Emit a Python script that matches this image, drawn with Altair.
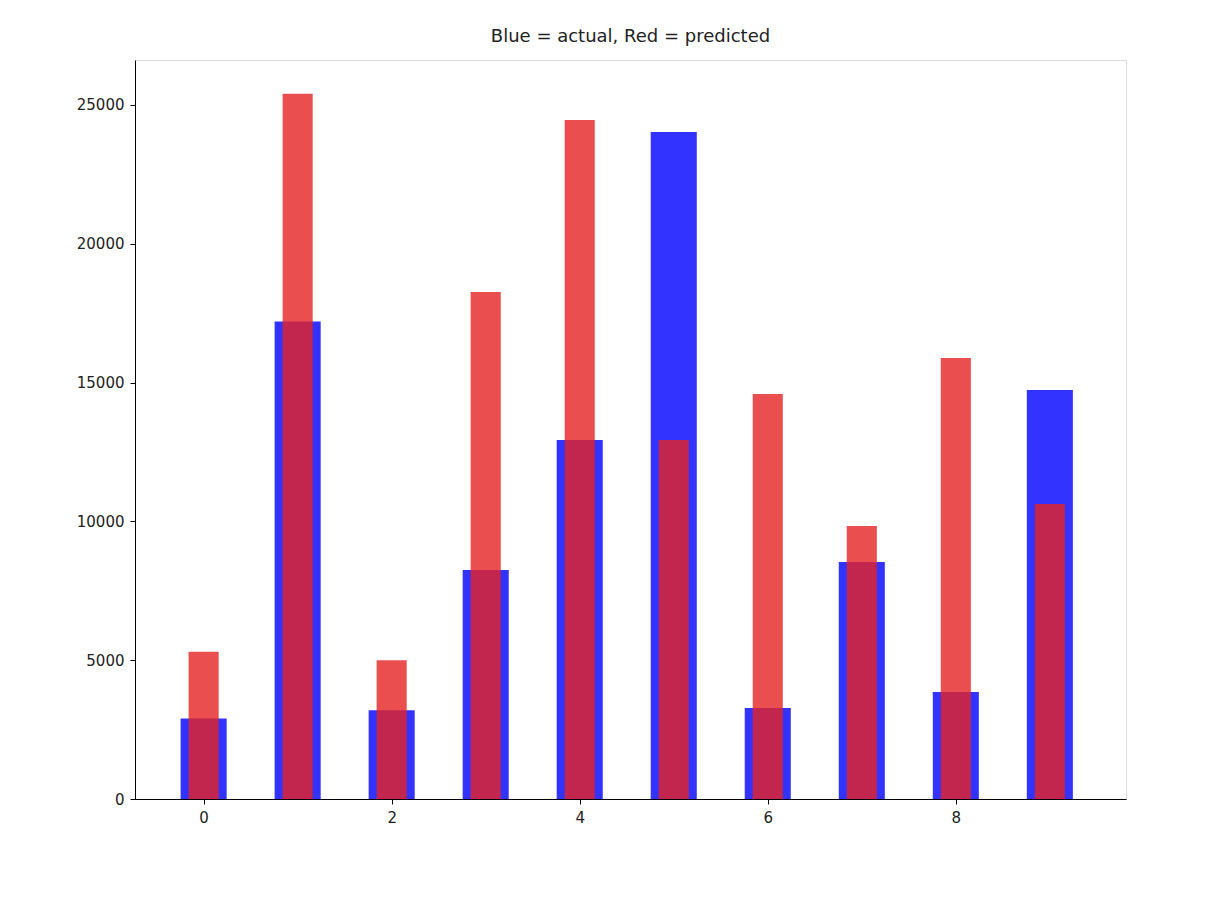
import altair as alt
import pandas as pd

idx = list(range(10))
actual = [2900, 17200, 3200, 8250, 12930, 24030, 3280, 8540, 3850, 14730]
predicted = [5300, 25400, 5000, 18260, 24460, 12930, 14590, 9830, 15890, 10630]

df = pd.DataFrame({"i": idx, "actual": actual, "predicted": predicted})

xs = alt.Scale(domain=[-0.73, 9.81], nice=False, zero=False)
ys = alt.Scale(domain=[0, 26620], nice=False)
xax = alt.Axis(values=[0, 2, 4, 6, 8], format="d", grid=False, title=None, labelFontSize=15,
               tickColor="black", domainColor="black", labelColor="#222", labelPadding=6)
yax = alt.Axis(values=[0, 5000, 10000, 15000, 20000, 25000], format="d", grid=False,
               title=None, labelFontSize=15, tickColor="black", domainColor="black",
               labelColor="#222", labelPadding=6)

base = alt.Chart(df)

blue = base.transform_calculate(x0="datum.i - 0.245", x1="datum.i + 0.245").mark_bar(
    color="blue", opacity=0.8
).encode(
    x=alt.X("x0:Q", scale=xs, axis=xax),
    x2="x1:Q",
    y=alt.Y("actual:Q", scale=ys, axis=yax),
    y2=alt.datum(0),
)

red = base.transform_calculate(x0="datum.i - 0.16", x1="datum.i + 0.16").mark_bar(
    color="#e62222", opacity=0.8
).encode(
    x=alt.X("x0:Q", scale=xs),
    x2="x1:Q",
    y=alt.Y("predicted:Q", scale=ys),
    y2=alt.datum(0),
)

chart = (blue + red).properties(
    width=991, height=739,
    padding={"left": 68, "top": 20, "right": 5, "bottom": 5},
    title=alt.TitleParams("Blue = actual, Red = predicted", fontSize=18,
                          fontWeight="normal", color="#222", offset=14),
).configure_view(stroke="#000000", strokeWidth=1, strokeOpacity=1).configure(font="DejaVu Sans")

chart.save("out.html", embed_options={"renderer": "svg", "actions": False})
